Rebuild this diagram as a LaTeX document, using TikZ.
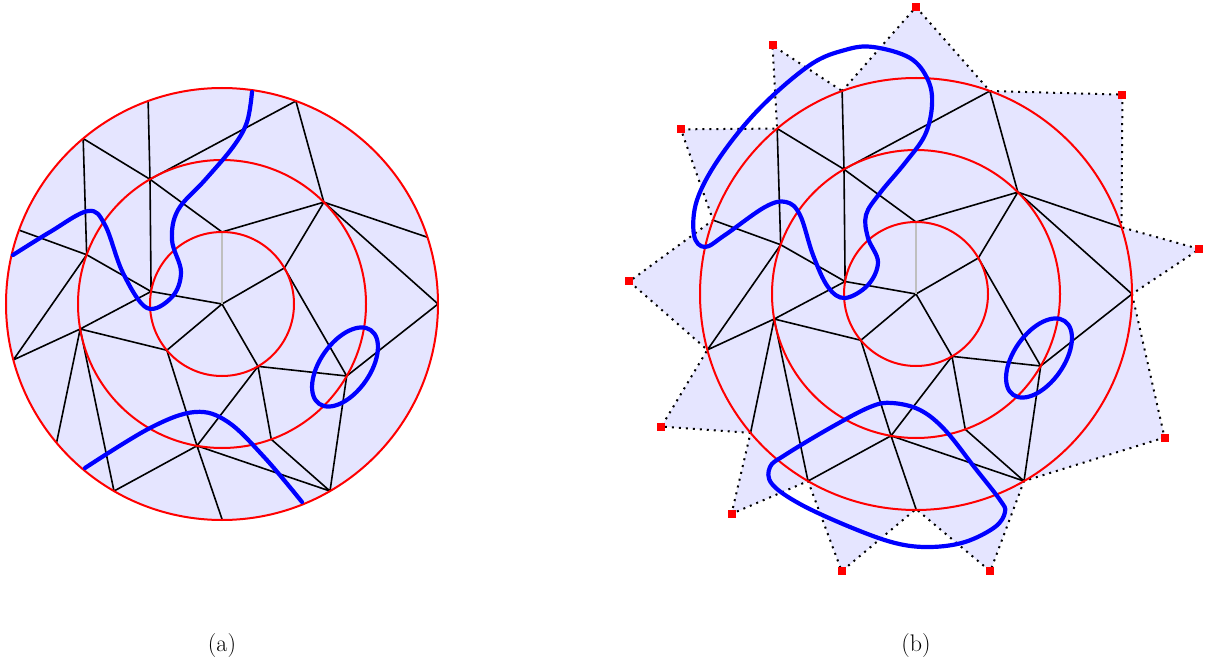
\documentclass[tikz,border=0pt]{standalone}
\usepackage{fontspec}
\newcommand\defmesh[1]{%
  \coordinate (#1p) at (0,0);
  \coordinate (#1d) at (270:72);
  \coordinate (#1o) at (330:72);
  \coordinate (#1r) at (60:72);
  \coordinate (#1h) at (140:72);
  \coordinate (#1x) at (190:72);
  \coordinate (#1b) at (240:144);
  \coordinate (#1l) at (315:144);
  \coordinate (#1q) at (30:144);
  \coordinate (#1t) at (70:144);
  \coordinate (#1u) at (100:144);
  \coordinate (#1f) at (170:144);
  \coordinate (#1y) at (200:144);
  \coordinate (#1a) at (250:216);
  \coordinate (#1k) at (290:216);
  \coordinate (#1m) at (342:216);
  \coordinate (#1n) at (0:216);
  \coordinate (#1s) at (60:216);
  \coordinate (#1v) at (90:215);
  \coordinate (#1j) at (120:216);
  \coordinate (#1i) at (140:216);
  \coordinate (#1g) at (165:216);
  \coordinate (#1e) at (200:216);
  \coordinate (#1c) at (230:216);
}
\newcommand\drawmesh[1]{%
  \draw[edge] (#1a)--(#1b)--(#1x) (#1c)--(#1b)--(#1d) (#1k)--(#1b)
    (#1c)--(#1y) (#1e)--(#1y)--(#1x) (#1y)--(#1g)
    (#1k)--(#1l)--(#1m) (#1l)--(#1n) (#1l)--(#1d) (#1l)--(#1o)--(#1p)
    (#1o)--(#1q) (#1x)--(#1p) (#1h)--(#1p) (#1r)--(#1p)
    (#1x)--(#1f)--(#1g) (#1f)--(#1h) (#1f)--(#1i) (#1f)--(#1j)
    (#1h)--(#1u) (#1r)--(#1u) (#1r)--(#1q) (#1r)--(#1t)
    (#1q)--(#1n) (#1q)--(#1s) (#1t)--(#1s)
    (#1u)--(#1s) (#1u)--(#1v) (#1u)--(#1j);
  \draw[spoke] (#1d)--(#1p);
}
\newcommand\drawrings[1]{%
  \draw[ring] (#1p) circle (216pt) (#1p) circle (144pt) (#1p) circle (72pt);
}
\begin{document}
\begin{tikzpicture}[x=1pt,y=-1pt,
  edge/.style={black, line width=1.6pt},
  spoke/.style={gray!50, line width=1.6pt},
  ring/.style={red, line width=2pt},
  curve/.style={blue, line width=4.2pt, line cap=round, line join=round},
  starline/.style={black, line width=2pt, dash pattern=on 2pt off 5pt},
  vmark/.style={rectangle, fill=red, minimum size=8pt, inner sep=0pt},
  lbl/.style={font=\fontsize{24}{29}\selectfont, anchor=base},
  fillc/.style={fill=blue!10}]
\useasboundingbox (0,0) rectangle (1210,660);

% ---------- left panel ----------
\begin{scope}[shift={(222,304)}]
  \defmesh{L}
\end{scope}
\fill[fillc] (Lp) circle (216pt);
\drawmesh{L}
\drawrings{L}
\draw[curve] plot[smooth, tension=0.6] coordinates {(13,255) (50,232) (88,211) (105,225) (123,273) (147,308) (172,297) (181,272) (172,240) (178,210) (205,180) (233,147) (247,122) (252,92)};
\draw[curve] plot[smooth, tension=0.6] coordinates {(85,468) (150,428) (195,412) (228,422) (265,458) (302,502)};
\draw[curve, rotate around={55:(345,367)}] (345,367) ellipse (45pt and 25pt);
\node[lbl] (la) at (222,651) {(a)};

% ---------- right panel ----------
\begin{scope}[shift={(916,294)}]
  \defmesh{R}
  \coordinate (RS1) at (270:287);
  \coordinate (RS2) at (316:287);
  \coordinate (RS3) at (351:287);
  \coordinate (RS4) at (30:287);
  \coordinate (RS5) at (75:287);
  \coordinate (RS6) at (105:287);
  \coordinate (RS7) at (130:287);
  \coordinate (RS8) at (152.5:287);
  \coordinate (RS9) at (182.5:287);
  \coordinate (RS10) at (215:287);
  \coordinate (RS11) at (240:287);
\end{scope}
\fill[fillc] (Rp) circle (216pt);
\fill[fillc] (Ra)--(RS1)--(Rk)--(RS2)--(Rm)--(RS3)--(Rn)--(RS4)--(Rs)--(RS5)--(Rv)--(RS6)--(Rj)--(RS7)--(Ri)--(RS8)--(Rg)--(RS9)--(Re)--(RS10)--(Rc)--(RS11)--cycle;
\draw[starline] (Ra)--(RS1)--(Rk)--(RS2)--(Rm)--(RS3)--(Rn)--(RS4)--(Rs)--(RS5)--(Rv)--(RS6)--(Rj)--(RS7)--(Ri)--(RS8)--(Rg)--(RS9)--(Re)--(RS10)--(Rc)--(RS11)--cycle;
\drawmesh{R}
\drawrings{R}
\draw[curve] plot[smooth cycle, tension=0.6] coordinates {(873,47) (910,58) (928,80) (932,105) (925,135) (905,163) (880,193) (866,215) (868,238) (878,262) (868,285) (845,298) (828,287) (813,255) (800,215) (786,202) (765,207) (725,235) (705,247) (694,235) (697,200) (720,157) (760,108) (810,65) (845,50)};
\draw[curve] plot[smooth cycle, tension=0.6] coordinates {(892,403) (920,410) (945,430) (975,468) (1000,500) (1005,512) (995,527) (965,542) (930,547) (895,543) (850,527) (800,504) (772,484) (770,467) (785,455) (830,428) (870,407)};
\draw[curve, rotate around={55:(1039,358)}] (1039,358) ellipse (45pt and 25pt);
\foreach \k in {1,...,11} { \node[vmark] (sq\k) at (RS\k) {}; }
\node[lbl] (lb) at (916,651) {(b)};
\end{tikzpicture}
\end{document}
